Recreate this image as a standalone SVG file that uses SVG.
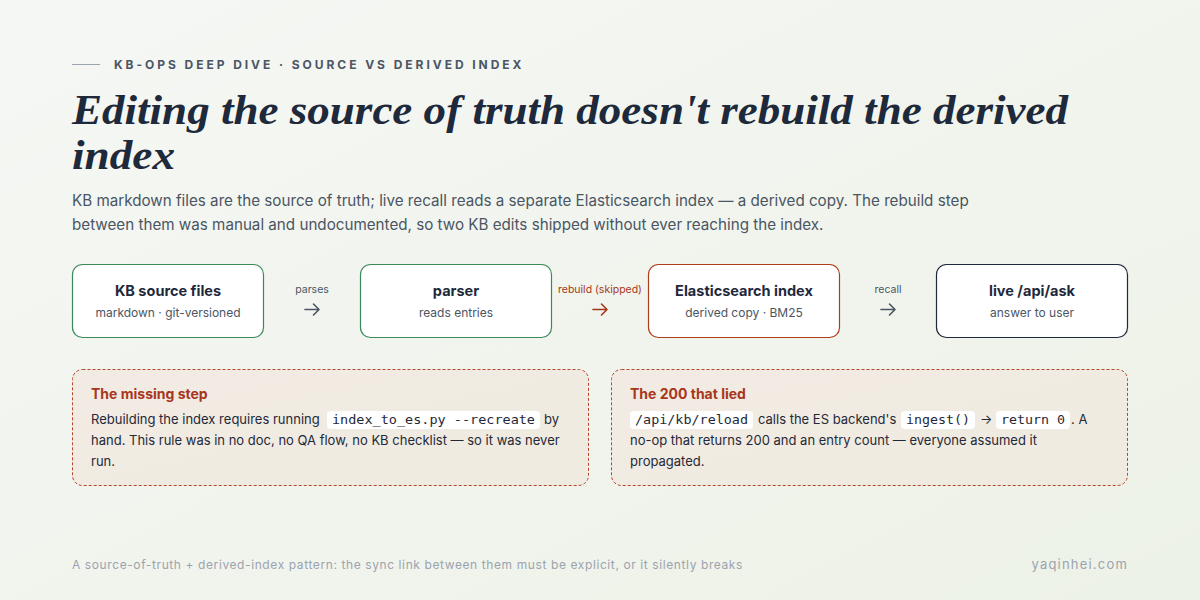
<svg xmlns="http://www.w3.org/2000/svg" width="1200" height="600" viewBox="0 0 1200 600">
<defs>
<linearGradient id="bg" x1="0" y1="0" x2="1" y2="1">
<stop offset="0" stop-color="#f5f7f4"/>
<stop offset="1" stop-color="#edf2e7"/>
</linearGradient>
<linearGradient id="warn" x1="0" y1="0" x2="1" y2="1">
<stop offset="0" stop-color="#f2ebe4"/>
<stop offset="1" stop-color="#efebe0"/>
</linearGradient>
</defs>
<style>
.eyebrow{font-family:Inter,"Liberation Sans",sans-serif;font-size:12px;font-weight:700;letter-spacing:2.95px;fill:#4b5563}
.title{font-family:"Liberation Serif","DejaVu Serif",serif;font-style:italic;font-weight:700;font-size:42px;fill:#1e293b}
.sub{font-family:Inter,"Liberation Sans",sans-serif;font-size:15.2px;fill:#4b5563}
.node rect{fill:#ffffff;stroke-width:1.2}
.ntitle{font-family:Inter,"Liberation Sans",sans-serif;font-size:14.5px;font-weight:700;fill:#1e293b;text-anchor:middle}
.nsub{font-family:Inter,"Liberation Sans",sans-serif;font-size:12px;fill:#4b5563;text-anchor:middle}
.clabel{font-family:Inter,"Liberation Sans",sans-serif;font-size:10.5px;fill:#4b5563;text-anchor:middle}
.redtext{fill:#a8361b}
.arrow{fill:none;stroke:#4b5563;stroke-width:1.6;stroke-linecap:round;stroke-linejoin:round}
.red{stroke:#a8361b}
.callout rect.box{fill:url(#warn);stroke:#b5472a;stroke-width:1;stroke-dasharray:3 2}
.chead{font-family:Inter,"Liberation Sans",sans-serif;font-size:14px;font-weight:700;fill:#a8361b}
.body{font-family:Inter,"Liberation Sans",sans-serif;font-size:13px;fill:#1f2937}
.code{font-family:"DejaVu Sans Mono","Liberation Mono",monospace;font-size:13px;fill:#1f2937}
.codebg{fill:#ffffff}
.foot{font-family:Inter,"Liberation Sans",sans-serif;font-size:12px;fill:#9ca3af;letter-spacing:0.6px}
.site{font-family:Inter,"Liberation Sans",sans-serif;font-size:13px;fill:#9ca3af;letter-spacing:1.2px}
</style>
<rect width="1200" height="600" fill="url(#bg)"/>

<g id="header">
<line x1="72" y1="64.5" x2="100" y2="64.5" stroke="#9aa5b1" stroke-width="1"/>
<text class="eyebrow" x="114" y="69">KB-OPS DEEP DIVE · SOURCE VS DERIVED INDEX</text>
<text class="title" x="72" y="124" textLength="996" lengthAdjust="spacingAndGlyphs">Editing the source of truth doesn't rebuild the derived</text>
<text class="title" x="72" y="169" textLength="103" lengthAdjust="spacingAndGlyphs">index</text>
<text class="sub" x="72" y="206">KB markdown files are the source of truth; live recall reads a separate Elasticsearch index — a derived copy. The rebuild step</text>
<text class="sub" x="72" y="230">between them was manual and undocumented, so two KB edits shipped without ever reaching the index.</text>
</g>

<g id="connectors">
<g id="c-parses">
<text class="clabel" x="312" y="293">parses</text>
<path class="arrow" d="M305 309.5 H319 M313.5 304 L319 309.5 L313.5 315"/>
</g>
<g id="c-rebuild">
<text class="clabel redtext" x="600" y="293">rebuild (skipped)</text>
<path class="arrow red" d="M593 309.5 H607 M601.5 304 L607 309.5 L601.5 315"/>
</g>
<g id="c-recall">
<text class="clabel" x="888" y="293">recall</text>
<path class="arrow" d="M881 309.5 H895 M889.5 304 L895 309.5 L889.5 315"/>
</g>
</g>

<g id="node-kb" class="node">
<rect x="72.5" y="264.5" width="191" height="73" rx="10" stroke="#3b8a58"/>
<text class="ntitle" x="168" y="296">KB source files</text>
<text class="nsub" x="168" y="317">markdown · git-versioned</text>
</g>
<g id="node-parser" class="node">
<rect x="360.5" y="264.5" width="191" height="73" rx="10" stroke="#3b8a58"/>
<text class="ntitle" x="456" y="296">parser</text>
<text class="nsub" x="456" y="317">reads entries</text>
</g>
<g id="node-es" class="node">
<rect x="648.5" y="264.5" width="191" height="73" rx="10" stroke="#ad3d1e"/>
<text class="ntitle" x="744" y="296">Elasticsearch index</text>
<text class="nsub" x="744" y="317">derived copy · BM25</text>
</g>
<g id="node-ask" class="node">
<rect x="936.5" y="264.5" width="191" height="73" rx="10" stroke="#1e293b"/>
<text class="ntitle" x="1032" y="296">live /api/ask</text>
<text class="nsub" x="1032" y="317">answer to user</text>
</g>

<g id="callout-missing" class="callout">
<rect class="box" x="72.5" y="369.5" width="516" height="116" rx="10"/>
<text class="chead" x="91" y="399">The missing step</text>
<text class="body" x="91" y="424">Rebuilding the index requires running</text>
<rect class="codebg" x="327" y="411" width="213" height="18" rx="4"/>
<text class="code" x="332" y="424" textLength="203" lengthAdjust="spacingAndGlyphs">index_to_es.py --recreate</text>
<text class="body" x="544" y="424">by</text>
<text class="body" x="91" y="445">hand. This rule was in no doc, no QA flow, no KB checklist — so it was never</text>
<text class="body" x="91" y="466">run.</text>
</g>

<g id="callout-200" class="callout">
<rect class="box" x="611.5" y="369.5" width="516" height="116" rx="10"/>
<text class="chead" x="630" y="399">The 200 that lied</text>
<rect class="codebg" x="630" y="411" width="123" height="18" rx="4"/>
<text class="code" x="635" y="424" textLength="113" lengthAdjust="spacingAndGlyphs">/api/kb/reload</text>
<text class="body" x="758" y="424">calls the ES backend's</text>
<rect class="codebg" x="901" y="411" width="74" height="18" rx="4"/>
<text class="code" x="906" y="424" textLength="64" lengthAdjust="spacingAndGlyphs">ingest()</text>
<text class="body" x="980" y="424">→</text>
<rect class="codebg" x="996" y="411" width="74" height="18" rx="4"/>
<text class="code" x="1001" y="424" textLength="64" lengthAdjust="spacingAndGlyphs">return 0</text>
<text class="body" x="1071" y="424">. A</text>
<text class="body" x="630" y="445">no-op that returns 200 and an entry count — everyone assumed it</text>
<text class="body" x="630" y="466">propagated.</text>
</g>

<g id="footer">
<text class="foot" x="72" y="569">A source-of-truth + derived-index pattern: the sync link between them must be explicit, or it silently breaks</text>
<text class="site" x="1128" y="569" text-anchor="end">yaqinhei.com</text>
</g>
</svg>
